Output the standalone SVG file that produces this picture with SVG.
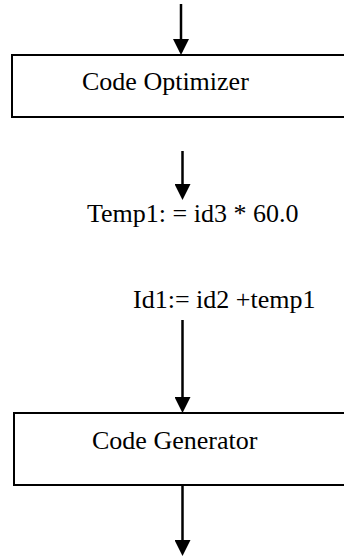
<svg xmlns="http://www.w3.org/2000/svg" width="344" height="556" viewBox="0 0 344 556">
  <style>
    .box { fill: #ffffff; stroke: #000000; stroke-width: 2; }
    .lbl { font-family: "Liberation Serif", "Times New Roman", serif; font-size: 26px; fill: #000000; }
    .conn { stroke: #000000; stroke-width: 2.5; fill: none; marker-end: url(#arrow); }
  </style>
  <defs>
    <marker id="arrow" markerUnits="userSpaceOnUse" markerWidth="16" markerHeight="16" refX="13" refY="8" orient="auto" viewBox="0 0 16 16">
      <path d="M0,0 L16,8 L0,16 z" fill="#000000"/>
    </marker>
  </defs>
  <rect width="344" height="556" fill="#ffffff"/>
  <g id="connectors">
    <line class="conn" x1="181" y1="4" x2="181" y2="52"/>
    <line class="conn" x1="182.5" y1="151" x2="182.5" y2="197"/>
    <line class="conn" x1="182.5" y1="320" x2="182.5" y2="410"/>
    <line class="conn" x1="182.5" y1="485" x2="182.5" y2="553"/>
  </g>
  <g id="code-optimizer">
    <rect class="box" x="12" y="55" width="340" height="62"/>
    <text class="lbl" x="82" y="90">Code Optimizer</text>
  </g>
  <g id="temp1">
    <text class="lbl" x="87" y="222">Temp1: = id3 * 60.0</text>
  </g>
  <g id="id1">
    <text class="lbl" x="133" y="308">Id1:= id2 +temp1</text>
  </g>
  <g id="code-generator">
    <rect class="box" x="14" y="413" width="340" height="72"/>
    <text class="lbl" x="92" y="449">Code Generator</text>
  </g>
</svg>
